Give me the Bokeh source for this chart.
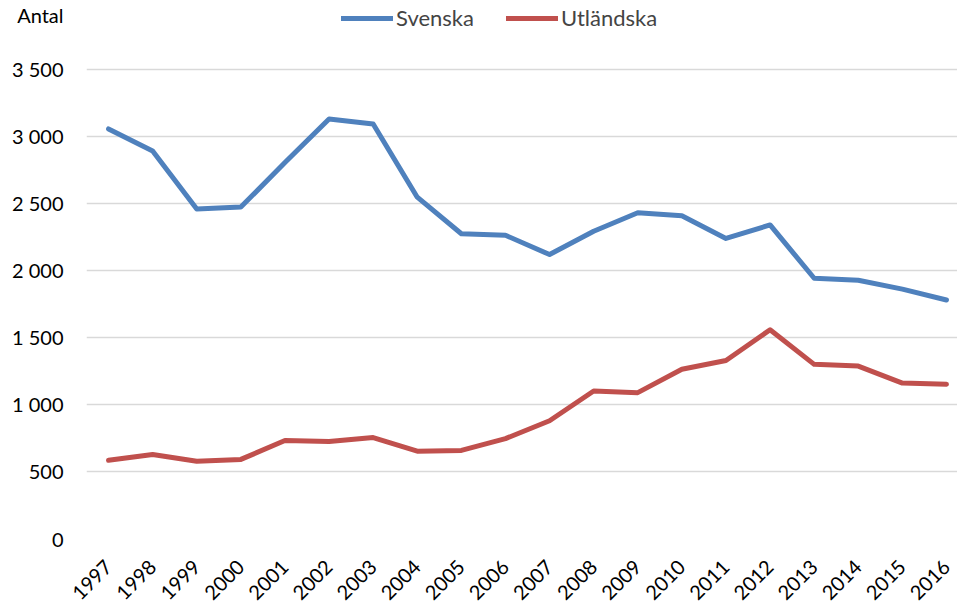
from bokeh.plotting import figure
from bokeh.models import FixedTicker, Legend, LegendItem, Range1d
from bokeh.embed import file_html
from bokeh.resources import INLINE
import math

years = list(range(1997, 2017))
svenska = [3055, 2890, 2458, 2472, 2804, 3129, 3092, 2546, 2273, 2262,
           2118, 2292, 2430, 2408, 2238, 2339, 1941, 1926, 1860, 1779]
utlandska = [583, 627, 576, 590, 731, 723, 753, 651, 657, 745,
             878, 1100, 1088, 1262, 1328, 1557, 1299, 1286, 1159, 1151]
y_ticks = [0, 500, 1000, 1500, 2000, 2500, 3000, 3500]
y_labels = ["0", "500", "1 000", "1 500", "2 000", "2 500", "3 000", "3 500"]
y_title = "Antal"

FONT = "Lato"
Y_MAX = 4013          # frame top (extra room above the plot for legend and axis title)
Y_TITLE_POS = 3905    # where the axis title "Antal" sits, above the top gridline

p = figure(width=957, height=609, output_backend="svg", toolbar_location=None,
           x_range=Range1d(1996.5, 2016.25), y_range=Range1d(0, Y_MAX),
           min_border_left=86, min_border_right=0, min_border_top=0,
           min_border_bottom=69)
p.outline_line_color = None

r1 = p.line(years, svenska, line_color="#4F81BD", line_width=5, line_cap="round", line_join="round")
r2 = p.line(years, utlandska, line_color="#C0504D", line_width=5, line_cap="round", line_join="round")

p.xaxis.ticker = FixedTicker(ticks=years)
p.xaxis.major_label_orientation = math.pi / 4
overrides = {t: l for t, l in zip(y_ticks, y_labels)}
overrides[Y_TITLE_POS] = y_title
p.yaxis.ticker = FixedTicker(ticks=y_ticks + [Y_TITLE_POS])
p.yaxis.major_label_overrides = overrides
for ax in (p.xaxis[0], p.yaxis[0]):
    ax.axis_line_color = None
    ax.major_tick_line_color = None
    ax.minor_tick_line_color = None
    ax.major_label_text_font = FONT
    ax.major_label_text_color = "#000000"
    ax.major_label_text_font_size = "20px"
p.yaxis.major_label_standoff = 17
p.xaxis.major_label_standoff = 19

p.xgrid.grid_line_color = None
p.ygrid.ticker = FixedTicker(ticks=y_ticks)
p.ygrid.grid_line_color = "#D9D9D9"
p.ygrid.grid_line_width = 1.5

legend = Legend(items=[LegendItem(label="Svenska", renderers=[r1]),
                       LegendItem(label="Utländska", renderers=[r2])],
                orientation="horizontal", location=(255, 507),
                label_text_font=FONT, label_text_font_size="22px",
                glyph_width=52, glyph_height=20, label_standoff=3, spacing=32,
                border_line_color=None, background_fill_alpha=0,
                padding=0, margin=0)
p.add_layout(legend, "center")

open("out.html", "w").write(file_html(p, INLINE))
